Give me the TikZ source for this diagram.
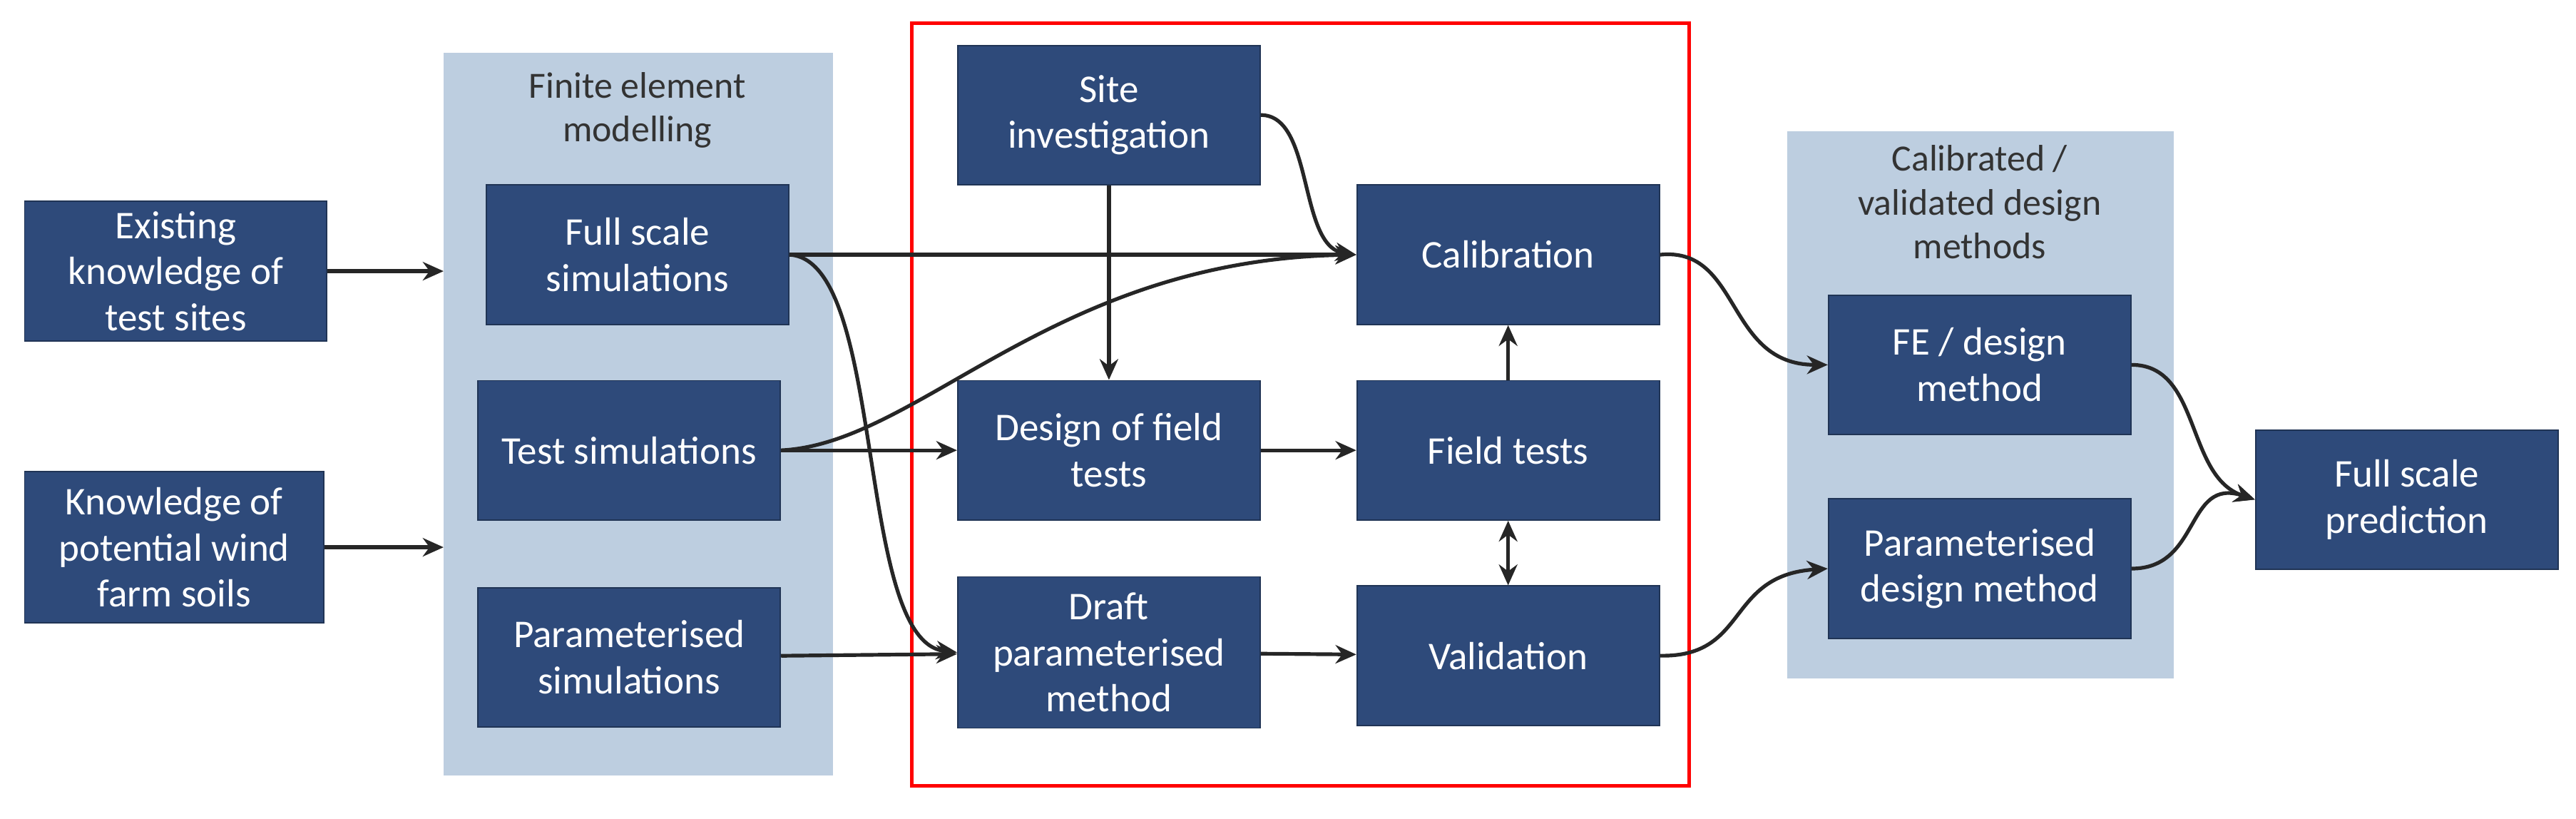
\documentclass[tikz,border=0pt]{standalone}
\usepackage{fontspec}
\setmainfont{Carlito}
\usetikzlibrary{arrows.meta}
\definecolor{bx}{HTML}{2E4A7A}
\definecolor{pn}{HTML}{BDCEE0}
\begin{document}
\begin{tikzpicture}[x=0.025cm,y=-0.025cm,
 b/.style={fill=bx,text=white,draw=bx!70!black,line width=0.6pt,minimum width=4.6cm,minimum height=2.12cm,align=center,font=\fontsize{17}{20}\selectfont,inner sep=2pt},
 pl/.style={align=center,font=\fontsize{16}{19}\selectfont,text=black!80},
 a/.style={-{Stealth[length=9pt,width=8pt]},line width=1.6pt,black!85}]
\useasboundingbox (0,0) rectangle (1568,498);
\fill[pn] (270,32) rectangle (507,472);
\fill[pn] (1088,80) rectangle (1323,413);
\draw[red,line width=1.5pt] (555,14) rectangle (1028,478);
\node[pl] (fet) at (388,67) {Finite element\\modelling};
\node[pl] (cvt) at (1205,123) {Calibrated /\\validated design\\methods};
\coordinate (p1) at (270,165);
\coordinate (p2) at (270,333);
\node[b,minimum width=4.6cm] (ek) at (107,165) {Existing\\knowledge of\\test sites};
\node[b,minimum width=4.55cm,minimum height=2.3cm] (kp) at (106,333) {Knowledge of\\potential wind\\farm soils};
\node[b] (fs) at (388,155) {Full scale\\simulations};
\node[b] (ts) at (383,274) {Test simulations};
\node[b] (ps) at (383,400) {Parameterised\\simulations};
\node[b] (si) at (675,70) {Site\\investigation};
\node[b] (dft) at (675,274) {Design of field\\tests};
\node[b,minimum height=2.3cm] (dp) at (675,397) {Draft\\parameterised\\method};
\node[b] (cal) at (918,155) {Calibration};
\node[b] (ft) at (918,274) {Field tests};
\node[b] (val) at (918,399) {Validation};
\node[b] (fed) at (1205,222) {FE / design\\method};
\node[b] (pdm) at (1205,346) {Parameterised\\design method};
\node[b] (fsp) at (1465,304) {Full scale\\prediction};
\draw[a] (ek) -- (p1);
\draw[a] (kp) -- (p2);
\draw[a] (fs.east) -- (cal.west);
\draw[a] (fs.east) .. controls (540,158) and (520,390) .. (dp.west);
\draw[a] (ts.east) .. controls (560,270) and (640,158) .. (cal.west);
\draw[a] (ts.east) .. controls (520,274) .. (dft.west);
\draw[a] (si.east) .. controls (800,70) and (790,150) .. (cal.west);
\draw[a] (si) -- (dft);
\draw[a] (dft) -- (ft);
\draw[a] (ft) -- (cal);
\draw[a,{Stealth[length=9pt,width=8pt]}-{Stealth[length=9pt,width=8pt]}] (ft) -- (val);
\draw[a] (ps) -- (dp);
\draw[a] (dp) -- (val);
\draw[a] (cal.east) .. controls (1060,150) and (1050,222) .. (fed.west);
\draw[a] (val.east) .. controls (1065,400) and (1050,350) .. (pdm.west);
\draw[a] (fed.east) .. controls (1340,222) and (1330,290) .. (fsp.west);
\draw[a] (pdm.east) .. controls (1340,346) and (1330,290) .. (fsp.west);
\end{tikzpicture}
\end{document}
